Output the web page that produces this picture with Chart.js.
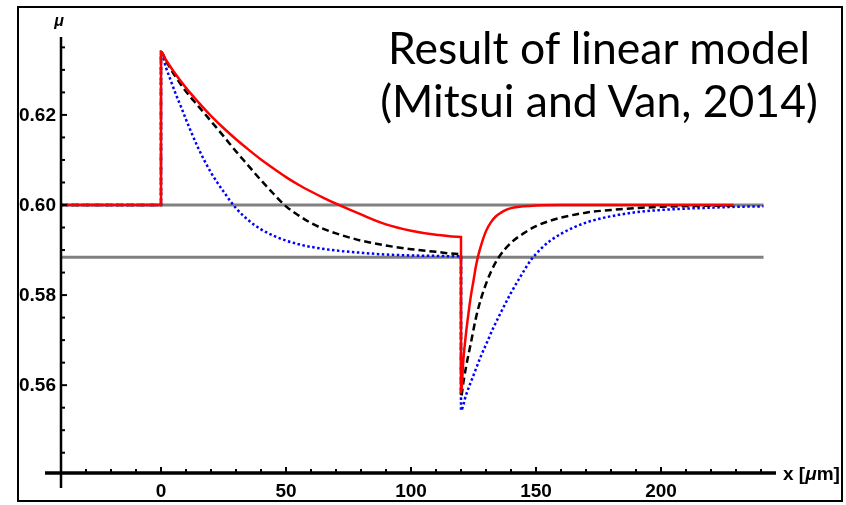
<!DOCTYPE html>
<html>
<head>
<meta charset="utf-8">
<script src="https://cdn.jsdelivr.net/npm/chart.js@4.4.0/dist/chart.umd.min.js"></script>
<style>
  body { margin: 0; background: #fff; }
  #wrap { position: relative; width: 846px; height: 505px; }
  #frame { position: absolute; left: 17px; top: 6px; width: 822px; height: 492px; border: 2px solid #000; }
  #title {
    position: absolute; left: 370px; top: 20px; width: 458px;
    font-family: Lato, "Open Sans", sans-serif; font-size: 44.5px; line-height: 53px;
    text-align: center; color: #000;
  }
  canvas { position: absolute; left: 0; top: 0; }
</style>
</head>
<body>
<div id="wrap">
  <canvas id="chart" width="846" height="505"></canvas>
  <div id="frame"></div>
  <div id="title">Result of linear model<br>(Mitsui and Van, 2014)</div>
</div>
<script>
// axis ranges and ticks
const xMin = -40, xMax = 246;
const yMin = 0.5405, yMax = 0.6373;
const xTicks = [0, 50, 100, 150, 200];
const yTicks = [0.56, 0.58, 0.60, 0.62];

// solid red curve
const redX = [-40, 0, 0, 2, 5, 10, 15, 20, 25, 30, 35, 40, 45, 50, 55, 60, 65, 70, 80, 90, 100, 110, 120,
  120, 121, 122, 123, 124, 125, 126, 127, 128, 130, 132, 134, 136, 138, 140, 145, 150, 160, 229];
const redY = [0.6000, 0.6000, 0.6340, 0.6322, 0.6297, 0.6260, 0.6228, 0.6198, 0.6171, 0.6146, 0.6123, 0.6101,
  0.6081, 0.6062, 0.6045, 0.6030, 0.6016, 0.6003, 0.5979, 0.5957, 0.5943, 0.5934, 0.5929,
  0.5584, 0.5660, 0.5715, 0.5760, 0.5800, 0.5832, 0.5865, 0.5890, 0.5910, 0.5942, 0.5962, 0.5975, 0.5983,
  0.5989, 0.5993, 0.5997, 0.5999, 0.6000, 0.6000];

// dashed black curve
const blackX = [-40, 0, 0, 2, 5, 10, 15, 20, 25, 30, 35, 40, 45, 50, 55, 60, 65, 70, 80, 90, 100, 110, 120,
  120, 121, 122, 124, 126, 128, 130, 132, 135, 140, 145, 150, 155, 160, 170, 180, 190, 200, 215, 229];
const blackY = [0.6000, 0.6000, 0.6340, 0.6320, 0.6292, 0.6252, 0.6219, 0.6186, 0.6153, 0.6119, 0.6087, 0.6055,
  0.6025, 0.5997, 0.5977, 0.5960, 0.5947, 0.5937, 0.5921, 0.5910, 0.5902, 0.5896, 0.5891,
  0.5574, 0.5608, 0.5640, 0.5695, 0.5750, 0.5792, 0.5825, 0.5852, 0.5883, 0.5916, 0.5937, 0.5953, 0.5964,
  0.5972, 0.5983, 0.5989, 0.5993, 0.5996, 0.5998, 0.5999];

// dotted blue curve
const blueX = [-40, 0, 0, 2, 4, 6, 8, 10, 12, 15, 20, 25, 30, 35, 40, 45, 50, 55, 60, 70, 80, 90, 100, 110, 120,
  120, 122, 125, 128, 130, 133, 136, 140, 144, 148, 152, 156, 160, 165, 170, 175, 180, 190, 200, 210, 220, 230, 241];
const blueY = [0.6000, 0.6000, 0.6340, 0.6305, 0.6275, 0.6245, 0.6218, 0.6190, 0.6163, 0.6125, 0.6072, 0.6030,
  0.5993, 0.5966, 0.5946, 0.5932, 0.5921, 0.5913, 0.5907, 0.5899, 0.5894, 0.5890, 0.5888, 0.5887, 0.5886,
  0.5544, 0.5578, 0.5622, 0.5665, 0.5690, 0.5728, 0.5762, 0.5805, 0.5843, 0.5878, 0.5903, 0.5922, 0.5936,
  0.5950, 0.5961, 0.5969, 0.5975, 0.5984, 0.5989, 0.5992, 0.5994, 0.5996, 0.5997];

// grey reference levels
const refX = [-40, 241];
const refLevels = [0.600, 0.5884];

function toPoints(xs, ys) {
  return xs.map((v, i) => ({x: v, y: ys[i]}));
}

const labelFont = 'bold 19px "Liberation Sans", Arial, sans-serif';
const labelFontItalic = 'bold italic 19px "Liberation Sans", Arial, sans-serif';

const axesPlugin = {
  id: 'mathAxes',
  afterDatasetsDraw(chart) {
    const ctx = chart.ctx;
    const x = chart.scales.x, y = chart.scales.y;
    const ax = x.getPixelForValue(xMin);
    const ay = y.getPixelForValue(yMin);
    const right = x.getPixelForValue(xMax);
    const top = y.getPixelForValue(yMax);
    ctx.save();
    ctx.strokeStyle = '#000';
    ctx.lineCap = 'butt';

    // y axis
    ctx.lineWidth = 2.5;
    ctx.beginPath();
    ctx.moveTo(ax, top);
    ctx.lineTo(ax, ay + 15);
    ctx.stroke();
    // x axis
    ctx.lineWidth = 3.5;
    ctx.beginPath();
    ctx.moveTo(ax - 16, ay);
    ctx.lineTo(right, ay);
    ctx.stroke();

    // ticks on y (pointing right)
    ctx.lineWidth = 2;
    for (let v = 0.545; v < yMax; v += 0.005) {
      const major = yTicks.some(t => Math.abs(t - v) < 1e-6);
      const py = y.getPixelForValue(v);
      ctx.beginPath();
      ctx.moveTo(ax, py);
      ctx.lineTo(ax + (major ? 6 : 4), py);
      ctx.stroke();
    }
    // ticks on x (pointing up)
    for (let v = -30; v < xMax; v += 10) {
      const major = xTicks.includes(v);
      const px = x.getPixelForValue(v);
      ctx.beginPath();
      ctx.moveTo(px, ay);
      ctx.lineTo(px, ay - (major ? 6 : 4));
      ctx.stroke();
    }

    // tick labels
    ctx.fillStyle = '#000';
    ctx.font = labelFont;
    ctx.textAlign = 'right';
    ctx.textBaseline = 'middle';
    yTicks.forEach(t => ctx.fillText(t.toFixed(2), ax - 5, y.getPixelForValue(t) + 1));
    ctx.textAlign = 'center';
    xTicks.forEach(t => ctx.fillText(String(t), x.getPixelForValue(t), ay + 19));

    // axis labels
    ctx.textAlign = 'left';
    let lx = right + 7;
    const ly = ay + 2;
    ctx.fillText('x [', lx, ly);
    lx += ctx.measureText('x [').width;
    ctx.font = labelFontItalic;
    ctx.fillText('\u03bc', lx, ly);
    lx += ctx.measureText('\u03bc').width;
    ctx.font = labelFont;
    ctx.fillText('m]', lx, ly);

    ctx.font = 'bold italic 16px "Liberation Sans", Arial, sans-serif';
    ctx.textAlign = 'center';
    ctx.fillText('\u03bc', ax - 2, top - 15);
    ctx.restore();
  }
};

const lineStyle = {showLine: true, pointRadius: 0, fill: false, borderCapStyle: 'butt',
  cubicInterpolationMode: 'monotone'};

new Chart(document.getElementById('chart'), {
  type: 'scatter',
  data: {
    datasets: [
      Object.assign({data: toPoints(redX, redY), borderColor: '#ff0000', borderWidth: 2.5}, lineStyle),
      Object.assign({data: toPoints(blackX, blackY), borderColor: '#000000', borderWidth: 2.5,
        borderDash: [7, 4]}, lineStyle),
      Object.assign({data: toPoints(blueX, blueY), borderColor: '#0000ff', borderWidth: 2.5,
        borderDash: [2.5, 2.5]}, lineStyle),
      Object.assign({data: toPoints(refX, [refLevels[0], refLevels[0]]), borderColor: '#808080',
        borderWidth: 3}, lineStyle),
      Object.assign({data: toPoints(refX, [refLevels[1], refLevels[1]]), borderColor: '#808080',
        borderWidth: 3}, lineStyle)
    ]
  },
  options: {
    responsive: false,
    animation: false,
    layout: {padding: {left: 61, right: 70, top: 37, bottom: 32}},
    scales: {
      x: {type: 'linear', min: xMin, max: xMax, display: false},
      y: {type: 'linear', min: yMin, max: yMax, display: false}
    },
    plugins: {legend: {display: false}, tooltip: {enabled: false}}
  },
  plugins: [axesPlugin]
});
</script>
</body>
</html>
